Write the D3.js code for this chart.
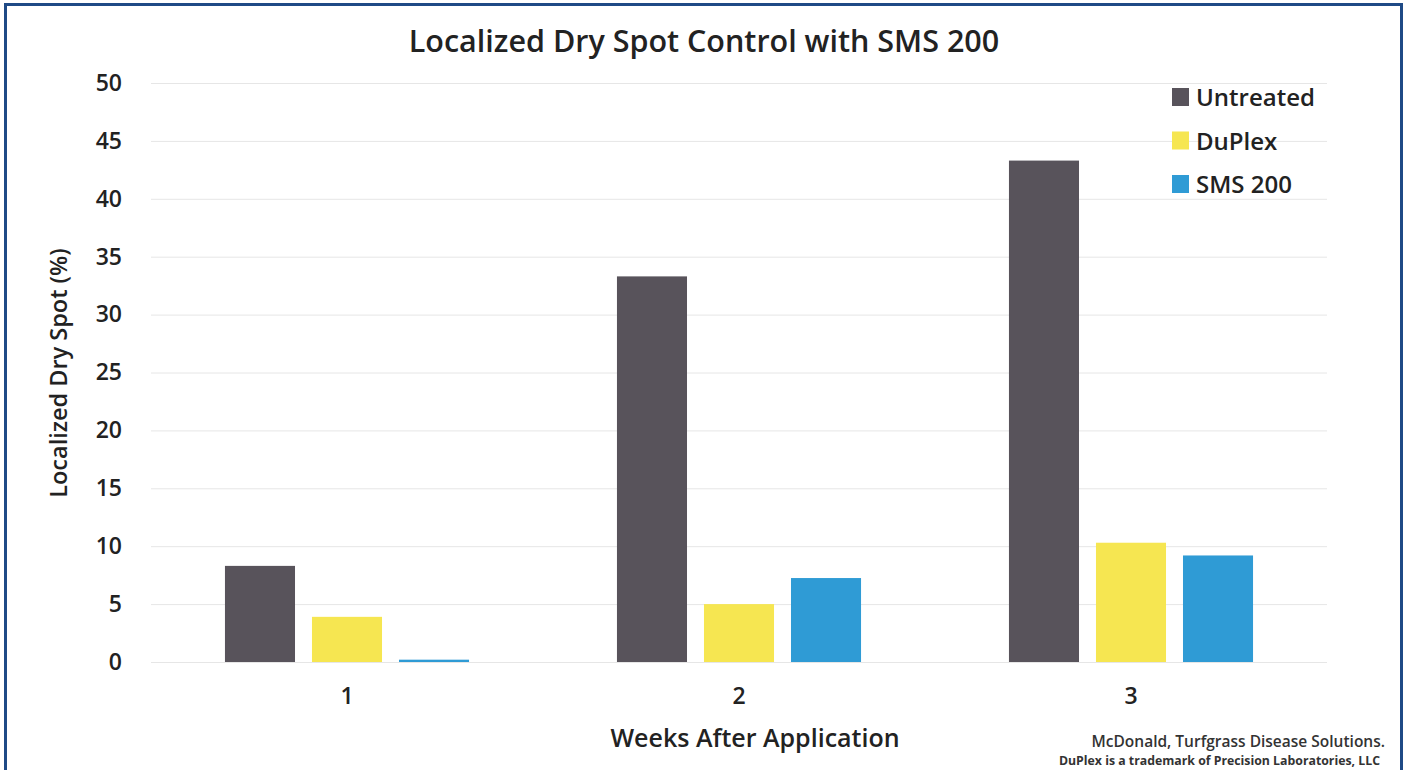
<!DOCTYPE html>
<html>
<head>
<meta charset="utf-8">
<script src="https://cdn.jsdelivr.net/npm/d3@7"></script>
<style>
  html, body { margin: 0; padding: 0; background: #fff; }
  svg { display: block; font-family: "Open Sans", "Noto Sans", sans-serif; }
</style>
</head>
<body>
<div id="container"></div>
<script>
// data
const weeks = ['1', '2', '3']
const seriesNames = ['Untreated', 'DuPlex', 'SMS 200']
const untreated = [8.3, 33.3, 43.3]
const duplex = [3.9, 5.0, 10.3]
const sms200 = [0.2, 7.25, 9.2]
const yTicks = [0, 5, 10, 15, 20, 25, 30, 35, 40, 45, 50]
const colors = ['#58535b', '#f6e651', '#2f9bd5']

const width = 1406
const height = 770
const margin = { top: 83, right: 79, bottom: 108, left: 151 }

let svg = d3.select('#container')
  .append('svg')
  .attr('width', width)
  .attr('height', height)

// frame
svg.append('rect')
  .attr('x', 5.5)
  .attr('y', 4.5)
  .attr('width', 1396)
  .attr('height', 800)
  .style('fill', 'none')
  .style('stroke', '#1f4a86')
  .style('stroke-width', 3)

let x = d3.scaleBand()
  .domain(weeks)
  .range([margin.left, width - margin.right])

let xInner = d3.scaleBand()
  .domain(seriesNames)
  .range([0, x.bandwidth()])
  .paddingInner(0.195)
  .paddingOuter(0.85)

let y = d3.scaleLinear()
  .domain([0, 50])
  .range([height - margin.bottom, margin.top])

// gridlines
svg.append('g')
  .selectAll('line')
  .data(yTicks)
  .enter().append('line')
  .attr('x1', margin.left)
  .attr('x2', width - margin.right)
  .attr('y1', d => y(d) + 0.5)
  .attr('y2', d => y(d) + 0.5)
  .style('stroke', '#e6e6e6')
  .style('stroke-width', 1)

// y axis labels
let yAxis = d3.axisLeft(y).tickValues(yTicks).tickSize(0).tickPadding(29)
let yg = svg.append('g')
  .attr('transform', `translate(${margin.left},0)`)
  .call(yAxis)
yg.select('.domain').remove()
yg.selectAll('text')
  .style('font-size', '23px')
  .style('font-weight', 600)
  .style('fill', '#222')
  .style('font-family', '"Open Sans", sans-serif')

// x axis labels
let xAxis = d3.axisBottom(x).tickSize(0).tickPadding(26)
let xg = svg.append('g')
  .attr('transform', `translate(0,${height - margin.bottom})`)
  .call(xAxis)
xg.select('.domain').remove()
xg.selectAll('text')
  .style('font-size', '23px')
  .style('font-weight', 600)
  .style('fill', '#222')
  .style('font-family', '"Open Sans", sans-serif')

// bars
let table = weeks.map((w, i) => ({
  week: w,
  values: [untreated[i], duplex[i], sms200[i]]
}))

let group = svg.append('g')
  .selectAll('g')
  .data(table)
  .enter().append('g')
  .attr('transform', d => `translate(${x(d.week)},0)`)

group.selectAll('rect')
  .data(d => d.values.map((v, j) => ({ name: seriesNames[j], value: v, idx: j })))
  .enter().append('rect')
  .attr('x', d => xInner(d.name))
  .attr('width', xInner.bandwidth())
  .attr('y', d => y(d.value))
  .attr('height', d => y(0) - y(d.value))
  .style('fill', d => colors[d.idx])

// title
svg.append('text')
  .attr('x', 704)
  .attr('y', 52)
  .attr('text-anchor', 'middle')
  .style('font-size', '30.5px')
  .style('font-weight', 600)
  .style('fill', '#222')
  .text('Localized Dry Spot Control with SMS 200')

// axis titles
svg.append('text')
  .attr('x', 755)
  .attr('y', 747)
  .attr('text-anchor', 'middle')
  .style('font-size', '25px')
  .style('font-weight', 600)
  .style('fill', '#222')
  .text('Weeks After Application')

svg.append('text')
  .attr('transform', 'translate(67,373) rotate(-90)')
  .attr('text-anchor', 'middle')
  .style('font-size', '23.5px')
  .style('font-weight', 600)
  .style('fill', '#222')
  .text('Localized Dry Spot (%)')

// legend
let legend = svg.append('g')
  .selectAll('g')
  .data(seriesNames)
  .enter().append('g')
  .attr('transform', (d, i) => `translate(1172,${97 + i * 43.5})`)

legend.append('rect')
  .attr('x', 0)
  .attr('y', -9)
  .attr('width', 17)
  .attr('height', 18)
  .style('fill', (d, i) => colors[i])

legend.append('text')
  .attr('x', 24)
  .attr('y', 9)
  .style('font-size', '24px')
  .style('font-weight', 600)
  .style('fill', '#222')
  .text(d => d)

// credits
svg.append('text')
  .attr('x', 1385)
  .attr('y', 747)
  .attr('text-anchor', 'end')
  .style('font-size', '15.5px')
  .style('font-weight', 600)
  .style('fill', '#333')
  .text('McDonald, Turfgrass Disease Solutions.')

svg.append('text')
  .attr('x', 1380)
  .attr('y', 765)
  .attr('text-anchor', 'end')
  .style('font-size', '12.3px')
  .style('font-weight', 700)
  .style('fill', '#333')
  .text('DuPlex is a trademark of Precision Laboratories, LLC')
</script>
</body>
</html>
